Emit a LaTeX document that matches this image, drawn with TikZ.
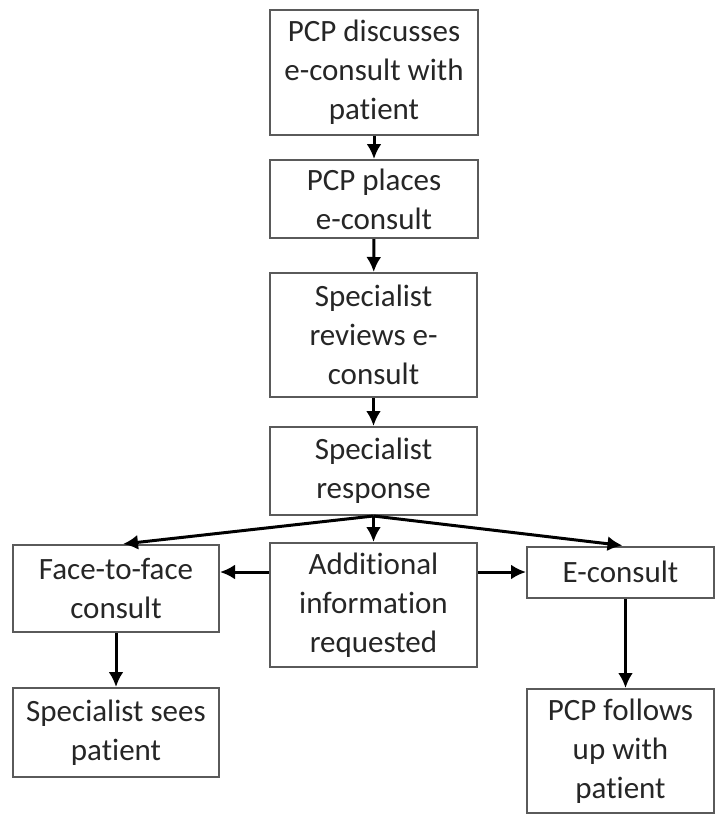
\documentclass[tikz,border=0pt]{standalone}
\usepackage{fontspec}
\setmainfont{Carlito}[Ligatures=NoCommon]
\usetikzlibrary{positioning}
\usetikzlibrary{arrows.meta}

\definecolor{boxline}{HTML}{5A5A5A}
\definecolor{boxtext}{HTML}{262626}

\begin{document}
\begin{tikzpicture}[x=1pt,y=-1pt,
	box/.style={draw=boxline,line width=2pt,align=center,text=boxtext,inner sep=0pt,
		font=\fontsize{31}{39}\selectfont},
	arr/.style={line width=3pt,-{Latex[length=15pt,width=15pt]}}]
	\useasboundingbox (0,0) rectangle (715,817);
	% middle column
	\node[box,minimum width=208pt,minimum height=125pt] (discuss) at (374,72.5) {PCP discusses\\e-consult with\\patient};
	\node[box,minimum width=208pt,minimum height=78pt] (places) at (374,199) {PCP places\\e-consult};
	\node[box,minimum width=207pt,minimum height=124pt] (reviews) at (373.5,335) {Specialist\\reviews e-\\consult};
	\node[box,minimum width=207pt,minimum height=88pt] (response) at (373.5,471) {Specialist\\response};
	\node[box,minimum width=207pt,minimum height=124pt] (additional) at (373.5,605) {Additional\\information\\requested};
	% left and right columns
	\node[box,minimum width=206pt,minimum height=87pt] (facetoface) at (116,588.5) {Face-to-face\\consult};
	\node[box,minimum width=206pt,minimum height=89pt] (sees) at (116,732.5) {Specialist sees\\patient};
	\node[box,minimum width=187pt,minimum height=51pt] (econsult) at (620.5,572) {E-consult};
	\node[box,minimum width=187pt,minimum height=124pt] (follows) at (620.5,751) {PCP follows\\up with\\patient};
	% connectors
	\draw[arr] (discuss) -- (places);
	\draw[arr] (places) -- (reviews);
	\draw[arr] (reviews) -- (response);
	\draw[arr] (response.south) -- ([xshift=7pt]facetoface.north);
	\draw[arr] (response.south) -- (additional.north);
	\draw[arr] (response.south) -- ([xshift=2pt]econsult.north);
	\draw[arr] (additional.west |- econsult.west) -- (facetoface.east |- econsult.west);
	\draw[arr] (additional.east |- econsult.west) -- (econsult.west);
	\draw[arr] (facetoface) -- (sees);
	\draw[arr] ([xshift=5pt]econsult.south) -- ([xshift=5pt]follows.north);
\end{tikzpicture}
\end{document}
